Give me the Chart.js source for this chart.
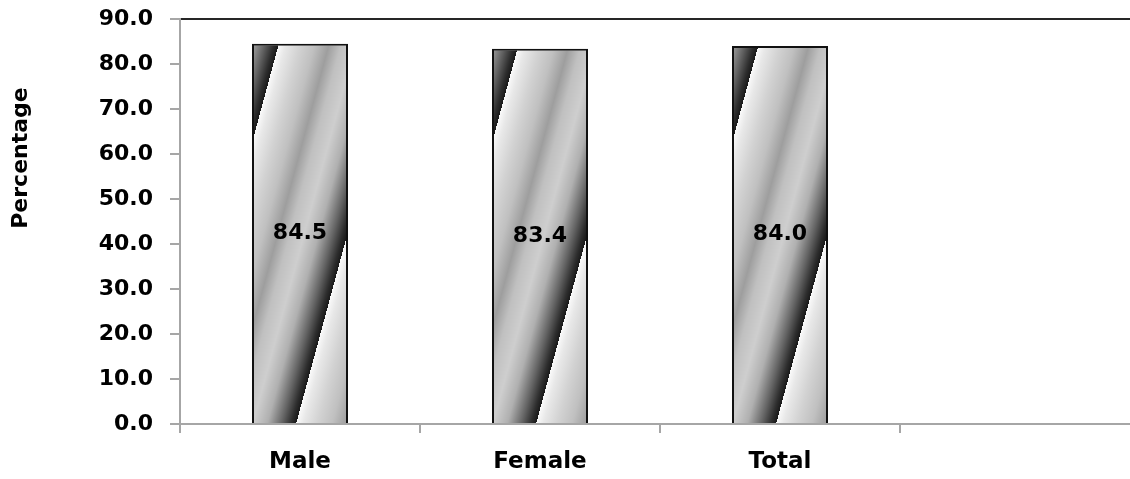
<!DOCTYPE html>
<html>
<head>
<meta charset="utf-8">
<script src="https://cdn.jsdelivr.net/npm/chart.js@4.4.0/dist/chart.umd.min.js"></script>
<style>
  html, body { margin: 0; padding: 0; background: #fff; overflow: hidden; }
  #wrap { width: 1142px; height: 479px; }
</style>
</head>
<body>
<div id="wrap"><canvas id="chart" width="1142" height="479"></canvas></div>
<script>
'use strict';

/* ---- data ---- */
const categories  = ['Male', 'Female', 'Total', ''];
const percentages = [84.5, 83.4, 84.0, null];
const yTickLabels = ['0.0', '10.0', '20.0', '30.0', '40.0', '50.0', '60.0', '70.0', '80.0', '90.0'];
const yAxisTitle  = 'Percentage';

const FONT      = "'DejaVu Sans', sans-serif";
const AXIS_GRAY = '#a6a6a6';

/* diagonal grey stripe fill, like the old Excel gradient */
function makeStripePattern(ctx) {
  const W = 120, H = 444, k = W / H, phase = 50;
  const stops = [
    [0.00, 250], [0.06, 232], [0.18, 210], [0.30, 192], [0.42, 158],
    [0.52, 192], [0.64, 206], [0.76, 176], [0.88, 100], [0.96, 45], [1.00, 25]
  ];
  const tile = document.createElement('canvas');
  tile.width = W; tile.height = H;
  const g = tile.getContext('2d');
  const img = g.createImageData(W, H);
  for (let y = 0; y < H; y++) {
    for (let x = 0; x < W; x++) {
      const u = x + k * y - phase;
      const s = (((u % W) + W) % W) / W;
      let j = 1;
      while (j < stops.length - 1 && stops[j][0] < s) j++;
      const [s0, c0] = stops[j - 1], [s1, c1] = stops[j];
      const c = Math.round(c0 + (c1 - c0) * (s - s0) / (s1 - s0));
      const p = (y * W + x) * 4;
      img.data[p] = img.data[p + 1] = img.data[p + 2] = c;
      img.data[p + 3] = 255;
    }
  }
  g.putImageData(img, 0, 0);
  return ctx.createPattern(tile, 'repeat');
}

/* value written in the middle of each bar */
const valueLabels = {
  id: 'valueLabels',
  afterDatasetsDraw(chart) {
    const ctx = chart.ctx;
    const meta = chart.getDatasetMeta(0);
    ctx.save();
    ctx.font = `bold 22px ${FONT}`;
    ctx.fillStyle = '#000';
    ctx.textAlign = 'center';
    ctx.textBaseline = 'middle';
    meta.data.forEach((bar, i) => {
      const v = percentages[i];
      if (v == null) return;
      ctx.fillText(v.toFixed(1), bar.x, (bar.y + bar.base) / 2);
    });
    ctx.restore();
  }
};

/* rotated y title, sits higher than the axis middle */
const sideTitle = {
  id: 'sideTitle',
  afterDraw(chart) {
    const ctx = chart.ctx;
    ctx.save();
    ctx.translate(21, 158);
    ctx.rotate(-Math.PI / 2);
    ctx.font = `bold 22px ${FONT}`;
    ctx.fillStyle = '#000';
    ctx.textAlign = 'center';
    ctx.textBaseline = 'middle';
    ctx.fillText(yAxisTitle, 0, 0);
    ctx.restore();
  }
};

const canvas = document.getElementById('chart');
const ctx = canvas.getContext('2d');
const stripes = makeStripePattern(ctx);

new Chart(ctx, {
  type: 'bar',
  data: {
    labels: categories,
    datasets: [{
      data: percentages,
      backgroundColor: stripes,
      borderColor: '#111',
      borderWidth: 2,
      barPercentage: 0.5,
      categoryPercentage: 0.8
    }]
  },
  options: {
    responsive: false,
    animation: false,
    devicePixelRatio: 1,
    layout: { padding: { top: 19, right: 2, bottom: 0, left: 0 } },
    plugins: { legend: { display: false }, tooltip: { enabled: false } },
    scales: {
      x: {
        offset: true,
        grid: {
          offset: true, drawOnChartArea: false, drawTicks: true,
          tickLength: 9, tickColor: AXIS_GRAY, tickWidth: 2,
          color: AXIS_GRAY, lineWidth: 2
        },
        border: { color: AXIS_GRAY, width: 2 },
        ticks: {
          color: '#000', padding: 15, maxRotation: 0, autoSkip: false,
          font: { family: FONT, size: 23, weight: 'bold' }
        },
        afterFit(scale) {
          scale.height = 55;
          scale.paddingLeft = 0;
          scale.paddingRight = 0;
        }
      },
      y: {
        min: 0, max: 90,
        ticks: {
          stepSize: 10, padding: 17, color: '#000',
          font: { family: FONT, size: 22, weight: 'bold' },
          callback: (v, i) => yTickLabels[i]
        },
        grid: {
          drawTicks: true, tickLength: 10, tickColor: AXIS_GRAY, tickWidth: 2,
          color: c => (c.tick && c.tick.value === 90 ? '#262626' : 'rgba(0,0,0,0)'),
          lineWidth: 2
        },
        border: { color: AXIS_GRAY, width: 2 },
        afterFit(scale) {
          scale.width = 180;
          scale.paddingTop = 0;
          scale.paddingBottom = 0;
        }
      }
    }
  },
  plugins: [valueLabels, sideTitle]
});
</script>
</body>
</html>
